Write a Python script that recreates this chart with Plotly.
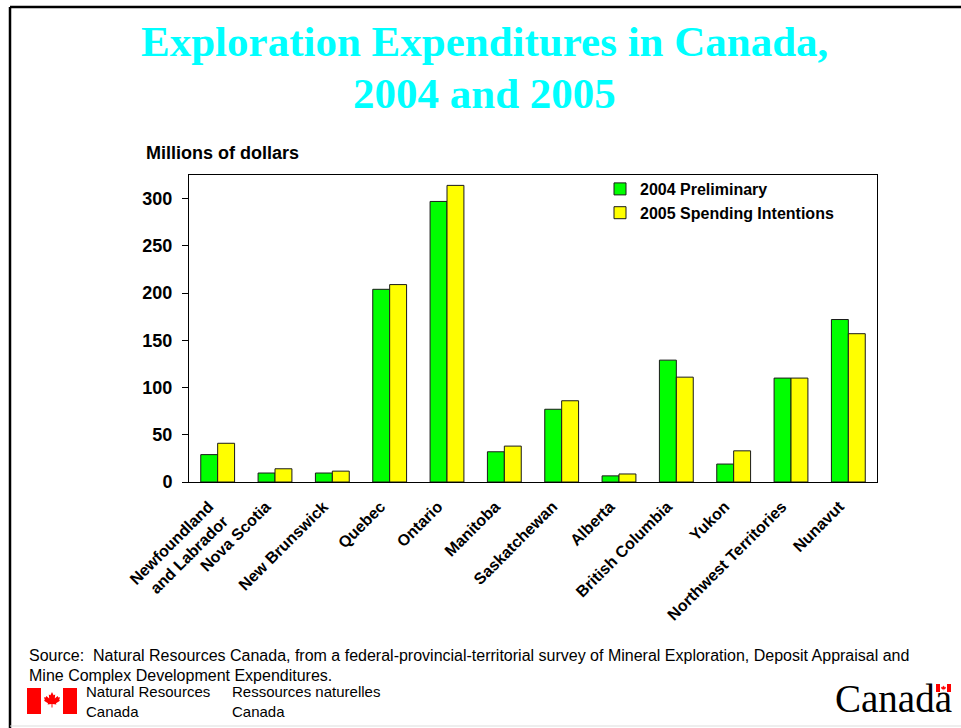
import plotly.graph_objects as go

categories = ["Newfoundland<br>and Labrador", "Nova Scotia", "New Brunswick", "Quebec", "Ontario",
              "Manitoba", "Saskatchewan", "Alberta", "British Columbia", "Yukon",
              "Northwest Territories", "Nunavut"]
prelim_2004 = [29, 9.5, 9.5, 204, 297, 32, 77, 6.5, 129, 19, 110, 172]
intent_2005 = [41, 14, 11.5, 209, 314, 38, 86, 8.5, 111, 33, 110, 157]
series_names = ["2004 Preliminary", "2005 Spending Intentions"]
y_ticks = [0, 50, 100, 150, 200, 250, 300]

W, H = 961, 728
PL, PR, PT, PB = 189, 877, 175, 482


def X(px):
    return (px - PL) / (PR - PL)


def Y(py):
    return (PB - py) / (PB - PT)


fig = go.Figure()
fig.add_trace(go.Bar(x=categories, y=prelim_2004, name=series_names[0],
                     marker=dict(color="#00FF00", line=dict(color="#1a1a1a", width=1))))
fig.add_trace(go.Bar(x=categories, y=intent_2005, name=series_names[1],
                     marker=dict(color="#FFFF00", line=dict(color="#1a1a1a", width=1))))

bold = dict(family="Liberation Sans, Arial, sans-serif", color="black", weight="bold")

fig.update_layout(
    width=W, height=H,
    margin=dict(l=PL, r=W - PR, t=PT, b=H - PB, pad=0),
    paper_bgcolor="white", plot_bgcolor="white",
    barmode="group", bargap=0.41, bargroupgap=0,
    showlegend=True,
    legend=dict(x=X(600), y=Y(172), xanchor="left", yanchor="top",
                bgcolor="rgba(0,0,0,0)", borderwidth=0,
                font=dict(size=16, **bold), tracegroupgap=0, itemwidth=30),
    xaxis=dict(showline=True, linecolor="black", linewidth=1, mirror=True,
               tickangle=-45, tickfont=dict(size=16, **bold), ticks="",
               ticklabelstandoff=8, ticklabelshift=-9, showgrid=False),
    yaxis=dict(range=[0, 325], tickvals=y_ticks, showline=True, linecolor="black",
               linewidth=1, mirror=True, ticks="outside", ticklen=6, tickcolor="black",
               ticklabelstandoff=6,
               tickfont=dict(size=18, **bold), showgrid=False, zeroline=False),
    font=dict(family="Liberation Sans, Arial, sans-serif", color="black"),
)

ann = []
title_font = dict(family="Liberation Serif, Times New Roman, serif", size=43, color="#00FFFF")
ann.append(dict(text="<b>Exploration Expenditures in Canada,</b>",
                x=X(484), y=Y(41), xref="paper", yref="paper", xanchor="center", yanchor="middle",
                showarrow=False, font=title_font))
ann.append(dict(text="<b>2004 and 2005</b>",
                x=X(484), y=Y(93), xref="paper", yref="paper", xanchor="center", yanchor="middle",
                showarrow=False, font=title_font))
ann.append(dict(text="<b>Millions of dollars</b>", x=X(144), y=Y(153), xref="paper", yref="paper",
                xanchor="left", yanchor="middle", showarrow=False,
                font=dict(family="Liberation Sans, Arial, sans-serif", size=18, color="black")))
src_font = dict(family="Liberation Sans, Arial, sans-serif", size=16, color="black")
ann.append(dict(text="Source:  Natural Resources Canada, from a federal-provincial-territorial survey of Mineral Exploration, Deposit Appraisal and",
                x=X(27), y=Y(655), xref="paper", yref="paper", xanchor="left", yanchor="middle",
                showarrow=False, font=src_font))
ann.append(dict(text="Mine Complex Development Expenditures.",
                x=X(27), y=Y(675), xref="paper", yref="paper", xanchor="left", yanchor="middle",
                showarrow=False, font=src_font))
logo_font = dict(family="Liberation Sans, Arial, sans-serif", size=15, color="black")
for txt, px in [("Natural Resources<br>Canada", 84), ("Ressources naturelles<br>Canada", 230)]:
    ann.append(dict(text=txt, x=X(px), y=Y(701), xref="paper", yref="paper",
                    xanchor="left", yanchor="middle", showarrow=False, align="left",
                    font=logo_font))
ann.append(dict(text="Canada", x=X(833), y=Y(722), xref="paper", yref="paper",
                xanchor="left", yanchor="bottom", showarrow=False,
                font=dict(family="Liberation Serif, Times New Roman, serif", size=39, color="black")))
fig.update_layout(annotations=ann)

shapes = []
# page frame
shapes.append(dict(type="line", xref="paper", yref="paper", x0=X(10), x1=X(10), y0=Y(7), y1=Y(728),
                   line=dict(color="black", width=2.5)))
shapes.append(dict(type="line", xref="paper", yref="paper", x0=X(10), x1=X(961), y0=Y(7), y1=Y(7),
                   line=dict(color="black", width=2.5)))
shapes.append(dict(type="line", xref="paper", yref="paper", x0=X(10), x1=X(961), y0=Y(726), y1=Y(726),
                   line=dict(color="#dddddd", width=1)))


def rect(x0, y0, x1, y1, color):
    return dict(type="rect", xref="paper", yref="paper", x0=X(x0), x1=X(x1), y0=Y(y1), y1=Y(y0),
                fillcolor=color, line=dict(width=0))


# NRCan flag
shapes.append(rect(27, 688, 41, 714, "#FF0000"))
shapes.append(rect(63, 688, 77, 714, "#FF0000"))
leaf = [(0, 1), (0.2, 0.6), (0.4, 0.7), (0.35, 0.2), (0.7, 0.5), (0.8, 0.3), (1.0, 0.35), (0.9, 0.0),
        (1.0, -0.1), (0.5, -0.4), (0.55, -0.55), (0.06, -0.5), (0.06, -0.95), (-0.06, -0.95),
        (-0.06, -0.5), (-0.55, -0.55), (-0.5, -0.4), (-1.0, -0.1), (-0.9, 0.0), (-1.0, 0.35),
        (-0.8, 0.3), (-0.7, 0.5), (-0.35, 0.2), (-0.4, 0.7), (-0.2, 0.6)]


def leaf_path(cx, cy, s):
    pts = [(X(cx + u * s), Y(cy - v * s)) for u, v in leaf]
    return "M " + " L ".join(f"{a:.5f},{b:.5f}" for a, b in pts) + " Z"


shapes.append(dict(type="path", xref="paper", yref="paper", path=leaf_path(52, 700, 8),
                   fillcolor="#FF0000", line=dict(width=0)))
# small flag on wordmark
shapes.append(rect(936, 684, 940, 692, "#FF0000"))
shapes.append(rect(947, 684, 951, 692, "#FF0000"))
shapes.append(dict(type="path", xref="paper", yref="paper", path=leaf_path(943.5, 688, 2.5),
                   fillcolor="#FF0000", line=dict(width=0)))
fig.update_layout(shapes=shapes)

fig.write_html("out.html")
